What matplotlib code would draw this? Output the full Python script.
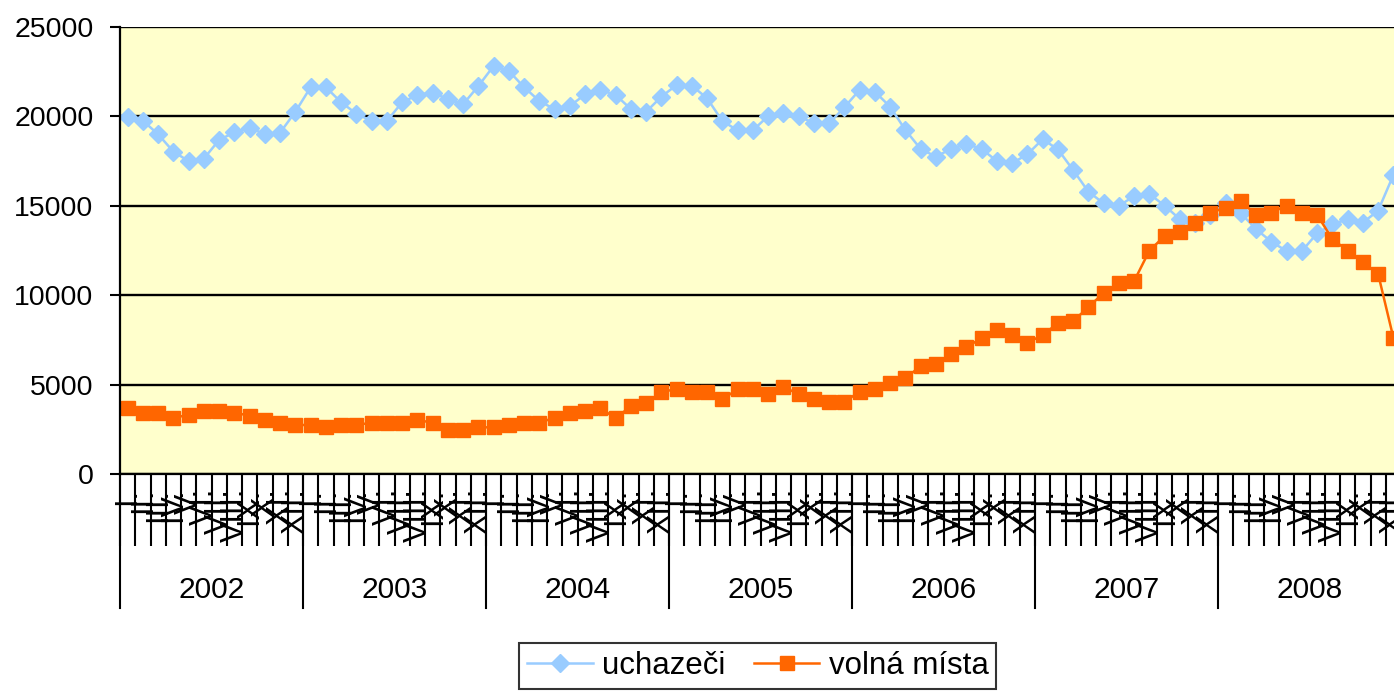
import numpy as np
import matplotlib.pyplot as plt

plt.rcParams['font.family'] = ['Liberation Sans', 'DejaVu Sans']

years = ['2002', '2003', '2004', '2005', '2006', '2007', '2008']
months = ['I.', 'II.', 'III.', 'IV.', 'V.', 'VI.', 'VII.', 'VIII.', 'IX.', 'X.', 'XI.', 'XII.']

# uchazeci (monthly, I/2002 - XII/2008)
uchazeci = [19950, 19760, 19000, 18030, 17500, 17640, 18680, 19110, 19370, 19000, 19090, 20260,
            21630, 21630, 20790, 20150, 19740, 19740, 20790, 21200, 21330, 20970, 20680, 21700,
            22820, 22540, 21630, 20860, 20400, 20580, 21230, 21480, 21200, 20410, 20260, 21100,
            21760, 21720, 21010, 19740, 19220, 19220, 20020, 20170, 20020, 19610, 19610, 20510,
            21480, 21380, 20540, 19240, 18180, 17750, 18180, 18460, 18180, 17500, 17380, 17880,
            18720, 18160, 17000, 15790, 15140, 14990, 15550, 15660, 15010, 14250, 14020, 14490,
            15180, 14580, 13690, 12990, 12470, 12470, 13460, 13960, 14250, 14060, 14730, 16720]

# volna mista
volna = [3670, 3430, 3430, 3150, 3300, 3540, 3540, 3430, 3260, 3020, 2870, 2740,
         2740, 2610, 2740, 2740, 2870, 2870, 2870, 3020, 2870, 2460, 2460, 2610,
         2610, 2740, 2870, 2870, 3150, 3430, 3530, 3690, 3110, 3800, 3950, 4600,
         4740, 4570, 4570, 4180, 4740, 4740, 4460, 4880, 4460, 4180, 4040, 4040,
         4600, 4740, 5110, 5350, 6040, 6150, 6730, 7100, 7590, 8050, 7770, 7340,
         7770, 8430, 8560, 9320, 10140, 10660, 10790, 12490, 13310, 13550, 14060, 14620,
         14890, 15270, 14490, 14620, 15010, 14620, 14490, 13140, 12490, 11840, 11190, 7620]

n = len(uchazeci)
x = np.arange(n)

fig = plt.figure(figsize=(13.94, 6.91), dpi=100)
ax = fig.add_axes([120/1394, 1 - 474/691, 1281/1394, 447/691])
ax.set_facecolor('#FFFFCC')

ax.plot(x, uchazeci, '-D', color='#99CCFF', lw=1.8, ms=9, mec='#99CCFF', label='uchazeči')
ax.plot(x, volna, '-s', color='#FF6600', lw=1.8, ms=9.5, mec='#FF6600', label='volná místa')

ax.set_xlim(-0.5, n - 0.5)
ax.set_ylim(0, 25000)
ax.set_yticks(np.arange(0, 25001, 5000))
ax.yaxis.grid(True, color='black', lw=1.7)
ax.set_axisbelow(True)
ax.tick_params(axis='y', labelsize=20.5, length=7, width=1.5, pad=12, direction='out')

for s in ['top', 'right']:
    ax.spines[s].set_visible(False)
ax.spines['left'].set_linewidth(1.6)
ax.spines['bottom'].set_linewidth(1.6)

# month labels (rotated, crowded like the original)
ax.set_xticks(x)
ax.set_xticklabels(months * len(years), rotation=90, fontsize=22)
ax.tick_params(axis='x', length=0, pad=10)
ax.set_xticks(np.arange(-0.5, n, 1), minor=True)
ax.tick_params(axis='x', which='minor', length=52, width=1.5, direction='out')

# year separators and labels
tr = ax.get_xaxis_transform()
for k in range(len(years) + 1):
    ax.plot([k * 12 - 0.5] * 2, [0, -134 / 447], color='black', lw=1.5,
            transform=tr, clip_on=False)
for k, yr in enumerate(years):
    ax.text(k * 12 + 5.5, -116 / 447, yr, transform=tr, ha='center', va='center', fontsize=21.5)

leg = fig.legend(loc='upper center', bbox_to_anchor=(758/1394, 1 - 643/691), ncol=2,
                 fontsize=22.5, frameon=True, fancybox=False, edgecolor='black',
                 borderpad=0.25, handlelength=2.1, handletextpad=0.3, columnspacing=0.9,
                 borderaxespad=0)
leg.get_frame().set_linewidth(1.5)

fig.savefig('out.png', dpi=100)
